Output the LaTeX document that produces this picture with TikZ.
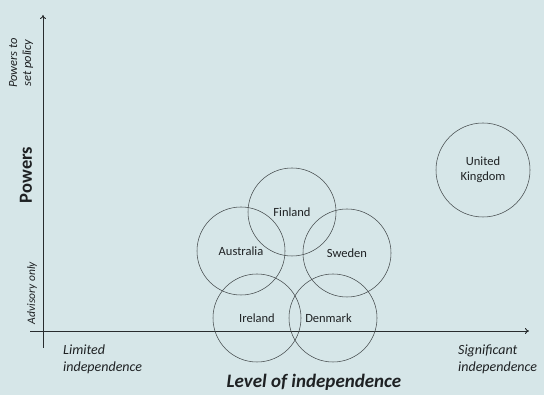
\documentclass[tikz,border=0pt]{standalone}
\usepackage{fontspec}
\setmainfont{Carlito}
\usetikzlibrary{arrows.meta}
\definecolor{bgcol}{RGB}{214,230,232}
\definecolor{axiscol}{RGB}{40,44,46}
\definecolor{ringcol}{RGB}{70,76,78}
\definecolor{txtcol}{RGB}{30,33,35}
\tikzset{
  axis/.style={draw=axiscol, line width=0.9pt},
  country/.style={circle, draw=ringcol, line width=0.55pt, minimum size=88pt,
    inner sep=0pt, font=\fontsize{12.5}{15}\selectfont, text=txtcol},
  axislabel/.style={text=txtcol, align=left},
  title/.style={font=\fontsize{19}{21}\selectfont\bfseries\itshape, text=txtcol}
}
\begin{document}
\begin{tikzpicture}[x=1pt, y=-1pt]
  % canvas
  \fill[bgcol] (0,0) rectangle (544,395);
  \useasboundingbox (0,0) rectangle (544,395);

  % axes
  \coordinate (ybot) at (43,348);
  \coordinate (ytop) at (43,15);
  \coordinate (xleft) at (30,331);
  \coordinate (xright) at (529,331);
  \draw[axis, -{To[length=4pt,width=6pt]}] (ybot) -- (ytop);
  \draw[axis, -{To[length=4pt,width=6pt]}] (xleft) -- (xright);

  % vertical axis labels
  \node[axislabel, rotate=90, align=center, font=\fontsize{12.5}{14}\selectfont\itshape] (setpolicy) at (21,63) {Powers to\\set policy};
  \node[rotate=90, text=txtcol, font=\fontsize{18.5}{20}\selectfont\bfseries] (powers) at (26,175) {Powers};
  \node[axislabel, rotate=90, font=\fontsize{11.5}{13}\selectfont\itshape] (advisory) at (32,293) {Advisory only};

  % horizontal axis labels
  \node[axislabel, anchor=north west, inner sep=0pt, font=\fontsize{14}{17}\selectfont\itshape] (limited) at (63,345) {Limited\\independence};
  \node[axislabel, anchor=north west, inner sep=0pt, font=\fontsize{14}{17}\selectfont\itshape] (significant) at (458,345) {Significant\\independence};
  \node[title] (level) at (314,382) {Level of independence};

  % countries
  \node[country] (finland) at (292,212) {Finland};
  \node[country] (australia) at (241,251) {Australia};
  \node[country] (sweden) at (347,253) {Sweden};
  \node[country] (ireland) at (257,318) {Ireland};
  \node[country] (denmark) at (333,318) {\hspace*{-9pt}Denmark};
  \node[country, minimum size=94pt, align=center, font=\fontsize{12.5}{15}\selectfont] (uk) at (483,170) {United\\Kingdom};
\end{tikzpicture}
\end{document}
